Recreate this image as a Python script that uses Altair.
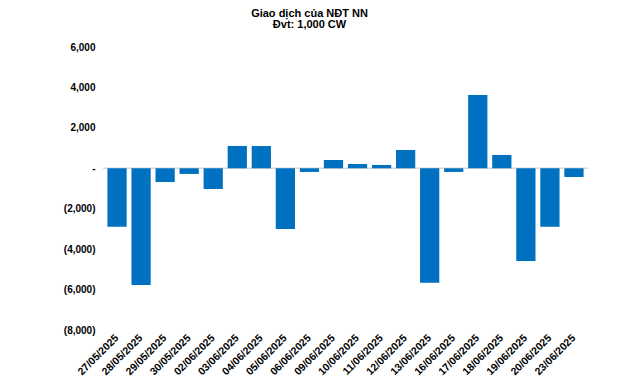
import altair as alt
import pandas as pd

dates = ["27/05/2025", "28/05/2025", "29/05/2025", "30/05/2025", "02/06/2025",
         "03/06/2025", "04/06/2025", "05/06/2025", "06/06/2025", "09/06/2025",
         "10/06/2025", "11/06/2025", "12/06/2025", "13/06/2025", "16/06/2025",
         "17/06/2025", "18/06/2025", "19/06/2025", "20/06/2025", "23/06/2025"]
values = [-2890, -5780, -680, -280, -1025,
          1105, 1100, -3000, -180, 410,
          215, 165, 905, -5660, -180,
          3630, 660, -4590, -2890, -430]
y_ticks = [6000, 4000, 2000, 0, -2000, -4000, -6000, -8000]

df = pd.DataFrame({"date": dates, "value": values})

W, H = 481, 283
FONT = "Liberation Sans"

label_expr = ("datum.value == 0 ? '-\u2007\u2007' : (datum.value < 0 ? '(' + format(-datum.value, ',') + ')' "
              ": format(datum.value, ',') + '\u00a0')")

bars = alt.Chart(df).mark_bar(color="#0070C0").encode(
    x=alt.X("date:N", sort=dates, title=None,
            scale=alt.Scale(paddingInner=0.2, paddingOuter=0.1),
            axis=alt.Axis(labelAngle=-45, labelAlign="right", labelBaseline="middle",
                          labelFont=FONT, labelFontSize=10.5, labelFontWeight="bold",
                          labelColor="#000000", ticks=False, domain=False,
                          labelPadding=6, labelOverlap=False)),
    y=alt.Y("value:Q", title=None,
            scale=alt.Scale(domain=[-8000, 6000], nice=False, zero=True),
            axis=alt.Axis(values=y_ticks, labelExpr=label_expr, grid=False,
                          ticks=False, domain=False, labelFont=FONT,
                          labelFontSize=10, labelFontWeight="bold",
                          labelColor="#000000", labelPadding=10)),
)

rule = alt.Chart(pd.DataFrame({"y": [0]})).mark_rule(color="#D9D9D9", strokeWidth=1.5).encode(
    y=alt.Y("y:Q"),
    x=alt.value(-2),
    x2=alt.value(W + 2),
)

chart = alt.layer(rule, bars).properties(
    width=W, height=H,
    title=alt.TitleParams(["Giao dịch của NĐT NN", "Đvt: 1,000 CW"], font=FONT,
                          fontSize=11, fontWeight="bold", color="#000000",
                          anchor="middle", dx=-36, offset=12, lineHeight=11),
    autosize=alt.AutoSizeParams(type="none"),
    padding={"left": 97, "top": 39, "right": 46, "bottom": 48},
).configure(background="#ffffff", view=alt.ViewConfig(stroke=None))

chart.save("out.html", embed_options={"renderer": "svg", "actions": False})
